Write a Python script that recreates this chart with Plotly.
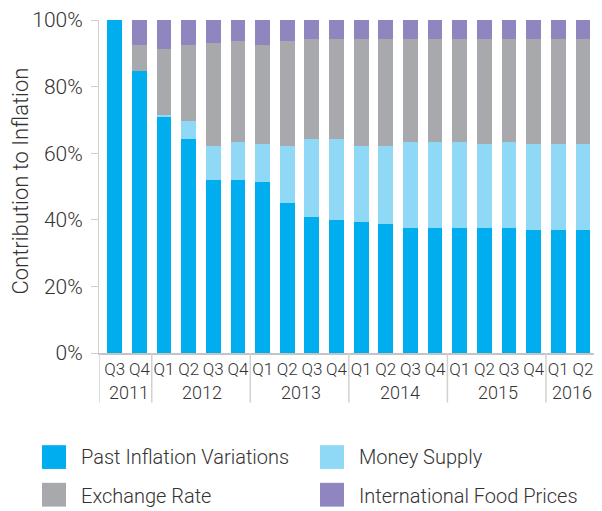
import plotly.graph_objects as go

# ---------------- data ----------------
quarters = ["Q3", "Q4",
            "Q1", "Q2", "Q3", "Q4",
            "Q1", "Q2", "Q3", "Q4",
            "Q1", "Q2", "Q3", "Q4",
            "Q1", "Q2", "Q3", "Q4",
            "Q1", "Q2"]
years = ["2011", "2011",
         "2012", "2012", "2012", "2012",
         "2013", "2013", "2013", "2013",
         "2014", "2014", "2014", "2014",
         "2015", "2015", "2015", "2015",
         "2016", "2016"]

past_inflation = [100.0, 84.8, 70.9, 64.2, 52.1, 52.1, 51.4, 45.1, 40.7, 40.0,
                  39.4, 38.8, 37.6, 37.6, 37.6, 37.6, 37.6, 37.0, 37.0, 37.0]
money_supply = [0.0, 0.0, 0.7, 5.5, 10.1, 11.4, 11.4, 17.1, 23.5, 24.2,
                22.8, 23.4, 25.9, 25.9, 25.9, 25.2, 25.9, 25.8, 25.8, 25.8]
exchange_rate = [0.0, 7.6, 19.7, 22.7, 30.8, 30.3, 29.6, 31.6, 30.2, 30.2,
                 32.2, 32.2, 30.9, 30.9, 30.9, 31.6, 30.9, 31.6, 31.6, 31.6]
food_prices = [0.0, 7.6, 8.7, 7.6, 7.0, 6.2, 7.6, 6.2, 5.6, 5.6,
               5.6, 5.6, 5.6, 5.6, 5.6, 5.6, 5.6, 5.6, 5.6, 5.6]

series_names = ["Past Inflation Variations", "Money Supply",
                "Exchange Rate", "International Food Prices"]
series_values = [past_inflation, money_supply, exchange_rate, food_prices]
series_colors = ["#00AEEF", "#8FD8F6", "#A7A9AC", "#8F86C0"]

y_ticks = [0, 20, 40, 60, 80, 100]
y_ticktext = [f"{v}%" for v in y_ticks]

# ---------------- layout constants ----------------
# the page body has an 8px margin, so the figure starts at (8, 8) on screen
OFF = 8
W, H = 602 - 2 * OFF, 511 - OFF
PLOT_L, PLOT_R, PLOT_T, PLOT_B = 99, 594, 17, 353   # screen pixels
ML, MR = PLOT_L - OFF, (W + OFF) - PLOT_R
MT, MB = PLOT_T - OFF, (H + OFF) - PLOT_B
PW, PH = PLOT_R - PLOT_L, PLOT_B - PLOT_T
X_RANGE = [-0.64, 19.45]
FONT = "Roboto"
WEIGHT = 300
TXT = "#333333"


def px_x(p):
    return (p - PLOT_L) / PW


def px_y(p):
    return (PLOT_B - p) / PH


def fnt(size):
    return dict(family=FONT, size=size, color=TXT, weight=WEIGHT)


x_idx = list(range(len(quarters)))

fig = go.Figure()
for name, vals, col in zip(series_names, series_values, series_colors):
    fig.add_trace(go.Bar(
        x=x_idx, y=vals, name=name, width=0.6,
        marker=dict(color=col, line=dict(width=0)),
        showlegend=False,
    ))

shapes = []
annotations = []

# year groups: dividers and labels
groups = []
for i, yr in enumerate(years):
    if not groups or groups[-1][0] != yr:
        groups.append([yr, i, i])
    else:
        groups[-1][2] = i

div_y1 = px_y(403)
for gi, (yr, a, b) in enumerate(groups):
    xb = X_RANGE[0] if gi == 0 else a - 0.5
    shapes.append(dict(type="line", xref="x", yref="paper",
                       x0=xb, x1=xb, y0=0, y1=div_y1,
                       line=dict(color="#d2d2d2", width=1.5)))
    annotations.append(dict(xref="x", yref="paper", x=(a + b) / 2 + 0.06,
                            y=px_y(393), text=yr, showarrow=False,
                            xanchor="center", yanchor="middle",
                            font=fnt(18)))

# y-axis title
annotations.append(dict(xref="paper", yref="paper", x=px_x(21), y=px_y(180),
                        text="Contribution to Inflation", textangle=-90,
                        showarrow=False, xanchor="center", yanchor="middle",
                        font=fnt(22)))

# custom legend
leg_cols = [(42, 79), (320, 357)]
leg_rows = [(446, 458), (484, 497)]
for k, (name, col) in enumerate(zip(series_names, series_colors)):
    r, c = divmod(k, 2)
    sx, tx = leg_cols[c]
    sy, ty = leg_rows[r]
    shapes.append(dict(type="rect", xref="paper", yref="paper",
                       x0=px_x(sx), x1=px_x(sx + 24),
                       y0=px_y(sy), y1=px_y(sy + 24),
                       fillcolor=col, line=dict(width=0)))
    annotations.append(dict(xref="paper", yref="paper", x=px_x(tx), y=px_y(ty),
                            text=name, showarrow=False,
                            xanchor="left", yanchor="middle",
                            font=fnt(20)))

fig.update_layout(
    width=W, height=H,
    margin=dict(l=ML, r=MR, t=MT, b=MB, pad=0),
    paper_bgcolor="white", plot_bgcolor="white",
    barmode="stack", bargap=0,
    font=fnt(16),
    shapes=shapes, annotations=annotations,
    xaxis=dict(
        range=X_RANGE, tickmode="array", tickvals=x_idx, ticktext=quarters,
        showgrid=False, zeroline=False, showline=True,
        linecolor="#c4c4c4", linewidth=2, ticks="",
        tickfont=fnt(17),
        ticklabeloverflow="allow",
        fixedrange=True,
    ),
    yaxis=dict(
        range=[0, 100], tickmode="array", tickvals=y_ticks, ticktext=y_ticktext,
        showgrid=False, zeroline=False, showline=True,
        linecolor="#cfcfcf", linewidth=1,
        ticks="outside", ticklen=7, tickcolor="#cfcfcf", tickwidth=1,
        tickfont=fnt(21),
        ticklabelstandoff=4,
        ticklabeloverflow="allow",
        fixedrange=True,
    ),
)

fig.write_html("out.html")
